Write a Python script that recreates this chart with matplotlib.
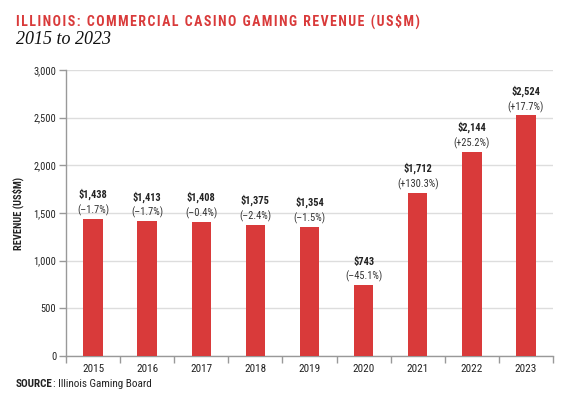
import matplotlib.pyplot as plt
from matplotlib.ticker import FuncFormatter

years = ['2015', '2016', '2017', '2018', '2019', '2020', '2021', '2022', '2023']
revenue = [1438, 1413, 1408, 1375, 1354, 743, 1712, 2144, 2524]
change = ['\u20131.7%', '\u20131.7%', '\u20130.4%', '\u20132.4%', '\u20131.5%',
          '\u201345.1%', '+130.3%', '+25.2%', '+17.7%']

red = '#d93a3a'
plt.rcParams['font.family'] = ['Roboto Condensed', 'Archivo Narrow', 'DejaVu Sans']

fig = plt.figure(figsize=(5.72, 4.03), dpi=100)
ax = fig.add_axes([66 / 572, 1 - 356 / 403, 487 / 572, 286 / 403])

x = range(len(years))
ax.bar(x, revenue, width=0.36, color=red, zorder=3)

for i, v in enumerate(revenue):
    ax.text(i, v + 195, '\\$' + format(v, ','), ha='center', va='bottom',
            fontsize=7.5, fontweight='bold', color='#222222')
    ax.text(i, v + 30, '(' + change[i] + ')', ha='center', va='bottom',
            fontsize=7.5, color='#333333')

ax.set_xlim(-0.5, len(years) - 0.5)
ax.set_ylim(0, 3000)
ax.set_yticks(range(0, 3001, 500))
ax.yaxis.set_major_formatter(FuncFormatter(lambda v, p: format(int(v), ',')))
ax.set_xticks(list(x))
ax.set_xticklabels(years, fontsize=8, color='#222222')
ax.set_xticks([i + 0.5 for i in range(-1, len(years))], minor=True)
ax.tick_params(axis='x', which='major', length=0, pad=6)
ax.tick_params(axis='x', which='minor', length=5, color='#999999', width=1)
ax.tick_params(axis='y', labelsize=7.5, labelcolor='#222222', color='#999999',
               length=5, width=1, pad=2)

ax.grid(axis='y', color='#dddddd', linewidth=1, zorder=0)
for s in ['top', 'right']:
    ax.spines[s].set_visible(False)
for s in ['left', 'bottom']:
    ax.spines[s].set_color('#999999')
    ax.spines[s].set_linewidth(1)

ax.set_ylabel('REVENUE (US\\$M)', fontsize=7.5, fontweight='bold', color='#222222')
ax.yaxis.set_label_coords(-42 / 487, 0.5)

# letter-spaced title (hair spaces), stretched to the reference width
spaced = '\u200a'.join('ILLINOIS: COMMERCIAL CASINO GAMING REVENUE (US$M)').replace('$', '\\$')
title = fig.text(16 / 572, 1 - 26 / 403, spaced,
                 fontsize=12, fontweight='bold', color=red, va='baseline', ha='left')
r = fig.canvas.get_renderer()
w = title.get_window_extent(r).width
title.set_fontsize(12 * 401 / w)

fig.text(16 / 572, 1 - 40 / 403, '2015 to 2023', fontsize=13, style='italic',
         family=['Liberation Serif', 'DejaVu Serif'], color='#111111', va='center', ha='left')

src = fig.text(16 / 572, 1 - 384 / 403, 'SOURCE', fontsize=8, fontweight='bold',
               color='#222222', va='center')
ax.annotate(': Illinois Gaming Board', xy=(1, 0.5), xycoords=src, va='center',
            fontsize=8, color='#222222', annotation_clip=False)

plt.savefig('out.png', dpi=100)
